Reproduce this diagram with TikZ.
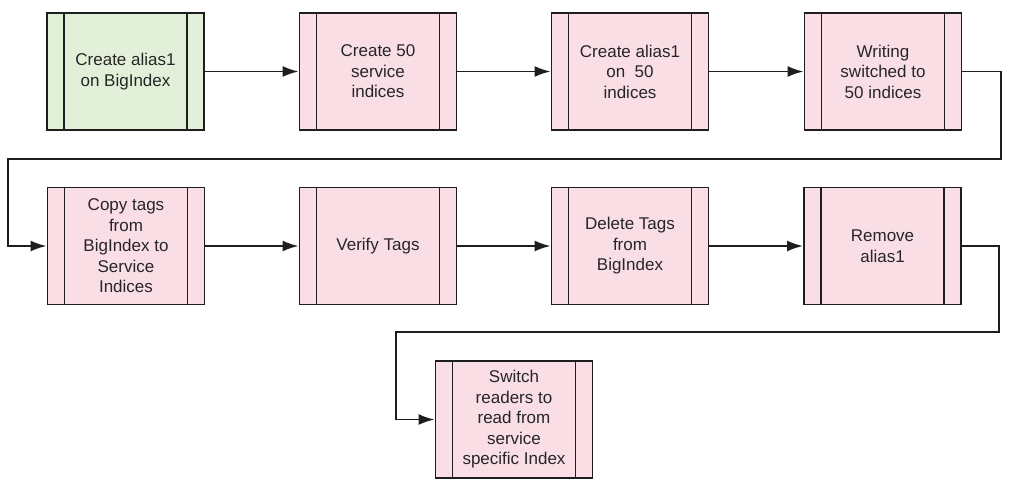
\documentclass[tikz,border=0pt]{standalone}
\usepackage{fontspec}
\setmainfont{Liberation Sans}
\usetikzlibrary{arrows.meta}
\definecolor{boxgreen}{RGB}{227,240,217}
\definecolor{boxpink}{RGB}{250,222,230}
\definecolor{txt}{RGB}{38,38,38}
\definecolor{ln}{RGB}{30,30,30}
\tikzset{
  procbox/.style={draw=ln, line width=1.9pt, fill=boxpink, minimum width=157pt, minimum height=117pt,
    inner sep=0pt, align=center, text=txt, font=\fontsize{17}{20.5}\selectfont,
    path picture={
      \draw[ln, line width=1.9pt] ([xshift=17pt]path picture bounding box.north west) -- ([xshift=17pt]path picture bounding box.south west);
      \draw[ln, line width=1.9pt] ([xshift=-17pt]path picture bounding box.north east) -- ([xshift=-17pt]path picture bounding box.south east);
    }},
  startbox/.style={procbox, fill=boxgreen},
  conn/.style={draw=ln, line width=1.9pt, -{Latex[length=16pt,width=11pt]}}
}
\begin{document}
\begin{tikzpicture}[x=1pt,y=1pt]
\useasboundingbox (0,0) rectangle (1024,-492);
\node[startbox] (b1) at (125.5,-71.5) {Create alias1\\on BigIndex};
\node[procbox] (b2) at (378,-71.5) {Create 50\\service\\indices};
\node[procbox] (b3) at (630,-71.5) {Create alias1\\on\ \ 50\\indices};
\node[procbox] (b4) at (883,-71.5) {Writing\\switched to\\50 indices};
\node[procbox] (b5) at (126,-246) {Copy tags\\from\\BigIndex to\\Service\\Indices};
\node[procbox] (b6) at (378,-246) {Verify Tags};
\node[procbox] (b7) at (630,-246) {Delete Tags\\from\\BigIndex};
\node[procbox] (b8) at (882.5,-246) {Remove\\alias1};
\node[procbox] (b9) at (514,-419.5) {Switch\\readers to\\read from\\service\\specific Index};
\coordinate (c1) at (1001,-159);
\coordinate (c2) at (8,-159);
\coordinate (c3) at (999,-332);
\coordinate (c4) at (396,-332);
\draw[conn] (b1) -- (b2);
\draw[conn] (b2) -- (b3);
\draw[conn] (b3) -- (b4);
\draw[conn] (b4.east) -| (c1) -- (c2) |- (b5.west);
\draw[conn] (b5) -- (b6);
\draw[conn] (b6) -- (b7);
\draw[conn] (b7) -- (b8);
\draw[conn] (b8.east) -| (c3) -- (c4) |- (b9.west);
\end{tikzpicture}
\end{document}
